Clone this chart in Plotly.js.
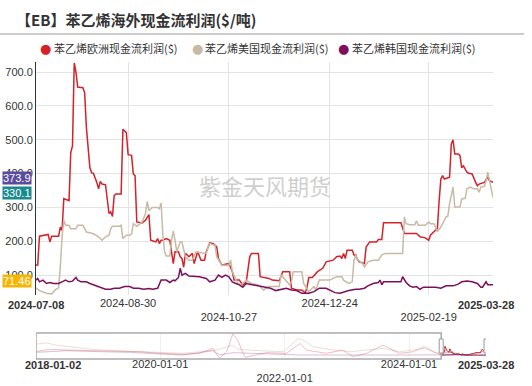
<!DOCTYPE html>
<html><head><meta charset="utf-8">
<script src="https://cdn.plot.ly/plotly-3.0.1.min.js"></script>
<style>html,body{margin:0;padding:0;background:#fff;}#chart{width:532px;height:386px;}</style>
</head><body><div id="chart"></div>
<script>
// ---------- data ----------
const seriesNames = ['苯乙烯欧洲现金流利润($)', '苯乙烯美国现金流利润($)', '苯乙烯韩国现金流利润($)'];

const euDates = [
 '2024-07-08','2024-07-09','2024-07-10','2024-07-14','2024-07-15','2024-07-16','2024-07-17','2024-07-21','2024-07-22','2024-07-23','2024-07-24','2024-07-27','2024-07-28','2024-07-29','2024-07-30','2024-07-31',
 '2024-08-01','2024-08-04','2024-08-05','2024-08-06','2024-08-08','2024-08-09','2024-08-10','2024-08-12','2024-08-13','2024-08-14','2024-08-15','2024-08-17','2024-08-19','2024-08-20','2024-08-21','2024-08-22','2024-08-23','2024-08-26','2024-08-27','2024-08-29','2024-08-30',
 '2024-09-01','2024-09-02','2024-09-03','2024-09-04','2024-09-07','2024-09-09','2024-09-11','2024-09-12','2024-09-15','2024-09-16','2024-09-17','2024-09-18','2024-09-19','2024-09-21','2024-09-23','2024-09-24','2024-09-25','2024-09-26','2024-09-28','2024-09-29','2024-09-30',
 '2024-10-01','2024-10-02','2024-10-04','2024-10-06','2024-10-07','2024-10-09','2024-10-11','2024-10-13','2024-10-14','2024-10-16','2024-10-18','2024-10-20','2024-10-21','2024-10-23','2024-10-25','2024-10-27','2024-10-29','2024-10-30',
 '2024-11-02','2024-11-04','2024-11-06','2024-11-08','2024-11-09','2024-11-13','2024-11-14','2024-11-17','2024-11-19','2024-11-21','2024-11-25','2024-11-27',
 '2024-12-01','2024-12-02','2024-12-05','2024-12-08','2024-12-10','2024-12-11','2024-12-12','2024-12-14','2024-12-16','2024-12-17','2024-12-20','2024-12-22','2024-12-26','2024-12-28','2024-12-30','2024-12-31',
 '2025-01-01','2025-01-02','2025-01-03','2025-01-06','2025-01-07','2025-01-08','2025-01-09','2025-01-10','2025-01-13','2025-01-14','2025-01-16','2025-01-20','2025-01-21','2025-01-23','2025-01-24',
 '2025-02-03','2025-02-05','2025-02-12','2025-02-14','2025-02-17','2025-02-19','2025-02-20','2025-02-22','2025-02-24','2025-02-25','2025-02-26','2025-02-27','2025-02-28',
 '2025-03-03','2025-03-04','2025-03-05','2025-03-06','2025-03-08','2025-03-09','2025-03-10','2025-03-11','2025-03-13','2025-03-14','2025-03-16','2025-03-17','2025-03-18','2025-03-19','2025-03-20','2025-03-23','2025-03-25','2025-03-26','2025-03-28'];
const euValues = [
 130,130,215,218,220,198,215,215,242,232,326,320,462,482,727,700,
 656,654,639,536,418,402,401,374,355,377,369,367,282,287,273,335,340,340,531,521,456,
 454,399,394,257,254,262,279,203,198,208,193,203,203,208,203,169,134,169,169,154,149,
 123,164,154,164,134,169,144,144,169,195,193,183,149,129,132,134,110,85,
 85,71,80,154,164,164,95,93,90,85,83,110,
 110,61,56,56,47,65,93,93,105,110,120,139,144,154,156,149,
 164,149,173,173,159,159,146,139,134,183,198,198,205,205,255,
 255,223,223,213,210,203,218,228,238,320,384,394,384,
 389,487,500,458,458,453,417,423,404,401,399,384,374,364,369,374,389,379,373.9];

const usDates = [
 '2024-07-08','2024-07-10','2024-07-14','2024-07-17','2024-07-19','2024-07-21','2024-07-22','2024-07-23','2024-07-24','2024-07-25','2024-07-27','2024-07-28','2024-07-31',
 '2024-08-01','2024-08-04','2024-08-06','2024-08-08','2024-08-10','2024-08-13','2024-08-15','2024-08-17','2024-08-19','2024-08-20','2024-08-21','2024-08-25','2024-08-26','2024-08-27','2024-08-29','2024-08-31',
 '2024-09-01','2024-09-02','2024-09-04','2024-09-07','2024-09-09','2024-09-10','2024-09-11','2024-09-13','2024-09-16','2024-09-17','2024-09-18','2024-09-19','2024-09-20','2024-09-21','2024-09-23','2024-09-24','2024-09-25','2024-09-26','2024-09-27','2024-09-29','2024-09-30',
 '2024-10-02','2024-10-04','2024-10-06','2024-10-08','2024-10-14','2024-10-15','2024-10-16','2024-10-19','2024-10-20','2024-10-23','2024-10-27','2024-10-28','2024-10-29',
 '2024-11-01','2024-11-03','2024-11-06','2024-11-09','2024-11-13','2024-11-16','2024-11-19','2024-11-25','2024-11-26',
 '2024-12-01','2024-12-02','2024-12-03','2024-12-08','2024-12-09','2024-12-11','2024-12-12','2024-12-15','2024-12-16','2024-12-18','2024-12-24','2024-12-28','2024-12-31',
 '2025-01-01','2025-01-04','2025-01-06','2025-01-07','2025-01-08','2025-01-09','2025-01-12','2025-01-13','2025-01-15','2025-01-18','2025-01-21','2025-01-23','2025-01-25',
 '2025-02-04','2025-02-05','2025-02-06','2025-02-08','2025-02-11','2025-02-12','2025-02-13','2025-02-17','2025-02-19','2025-02-20','2025-02-22','2025-02-24','2025-02-26','2025-02-28',
 '2025-03-01','2025-03-02','2025-03-03','2025-03-05','2025-03-06','2025-03-08','2025-03-09','2025-03-10','2025-03-12','2025-03-13','2025-03-15','2025-03-17','2025-03-19','2025-03-20','2025-03-21','2025-03-23','2025-03-24','2025-03-25','2025-03-26','2025-03-28'];
const usValues = [
 62,54,46,44,56,62,124,213,262,247,247,237,237,
 247,247,227,225,222,213,203,213,218,237,244,244,247,208,218,218,
 222,252,244,257,281,318,291,300,300,296,313,218,169,156,156,203,230,203,169,198,198,
 154,144,144,168,164,183,193,188,154,129,129,144,110,
 76,71,85,75,71,56,66,66,100,
 71,80,110,110,75,61,51,66,56,85,85,95,95,
 85,75,80,144,159,146,134,124,139,144,144,159,164,
 164,272,252,249,249,260,247,247,257,252,252,228,242,262,
 272,274,311,360,301,301,301,325,327,355,360,355,355,345,360,362,379,404,379,330.1];

const krDates = [
 '2024-07-08','2024-07-09','2024-07-10','2024-07-12','2024-07-14','2024-07-16','2024-07-18','2024-07-21','2024-07-23','2024-07-25','2024-07-27','2024-07-29','2024-07-31',
 '2024-08-01','2024-08-03','2024-08-06','2024-08-08','2024-08-11','2024-08-13','2024-08-15','2024-08-17','2024-08-20','2024-08-22','2024-08-25','2024-08-28','2024-08-31',
 '2024-09-02','2024-09-05','2024-09-08','2024-09-11','2024-09-13','2024-09-16','2024-09-18','2024-09-21','2024-09-23','2024-09-25','2024-09-26','2024-09-28','2024-09-29','2024-09-30',
 '2024-10-02','2024-10-04','2024-10-07','2024-10-09','2024-10-10','2024-10-14','2024-10-16','2024-10-19','2024-10-21','2024-10-23','2024-10-25','2024-10-27','2024-10-29','2024-10-31',
 '2024-11-02','2024-11-04','2024-11-06','2024-11-08','2024-11-10','2024-11-13','2024-11-16','2024-11-20','2024-11-23','2024-11-27','2024-11-29',
 '2024-12-02','2024-12-05','2024-12-08','2024-12-12','2024-12-15','2024-12-18','2024-12-22','2024-12-24','2024-12-27','2024-12-30',
 '2025-01-02','2025-01-04','2025-01-08','2025-01-10','2025-01-13','2025-01-15','2025-01-18','2025-01-21','2025-01-22','2025-01-23','2025-01-24',
 '2025-02-03','2025-02-04','2025-02-06','2025-02-08','2025-02-10','2025-02-12','2025-02-14','2025-02-16','2025-02-20','2025-02-23','2025-02-26',
 '2025-03-01','2025-03-05','2025-03-08','2025-03-10','2025-03-13','2025-03-16','2025-03-19','2025-03-21','2025-03-22','2025-03-24','2025-03-25','2025-03-28'];
const krValues = [
 85,90,80,85,75,78,75,75,80,85,80,82,93,
 85,80,80,75,70,66,63,58,58,61,61,66,66,
 61,61,58,60,58,61,85,85,78,85,83,93,120,100,
 105,97,97,95,95,90,80,85,100,93,100,95,80,75,
 71,64,75,73,71,68,64,61,54,58,61,
 56,54,46,46,51,61,61,56,48,46,
 51,54,58,58,61,68,75,78,85,71,80,
 80,95,78,68,64,66,58,64,64,64,61,
 68,68,73,80,82,80,75,64,64,80,71,71.46];

// long history shown in the overview strip (2018-01 .. 2024-07)
const histEuDates = ['2018-01-02','2018-03-20','2018-07-01','2018-12-01','2019-04-20','2019-09-01','2020-01-01','2020-05-15','2020-08-20','2020-11-05','2020-12-15','2021-01-25','2021-03-03','2021-04-01','2021-05-01','2021-05-15','2021-09-16','2022-01-12','2022-04-01','2022-05-08','2022-09-01','2022-12-10','2023-02-06','2023-04-27','2023-08-01','2023-09-08','2023-11-06','2024-01-26','2024-04-01','2024-05-22','2024-07-08'];
const histEuValues = [320,490,441,392,368,320,198,125,198,563,-166,320,1650,1170,198,-94,247,198,927,441,198,441,-45,198,806,563,198,320,684,320,130];
const histUsDates = ['2018-01-02','2018-03-01','2018-05-01','2018-08-07','2018-12-01','2019-04-20','2019-09-01','2020-01-01','2020-05-15','2020-08-20','2020-11-25','2021-03-03','2021-04-01','2021-08-07','2021-12-25','2022-03-20','2022-04-20','2022-06-17','2022-10-12','2023-01-20','2023-04-27','2023-08-01','2023-11-06','2024-04-01','2024-05-22','2024-07-08'];
const histUsValues = [878,976,806,684,490,392,320,270,198,320,441,806,490,392,320,1292,1170,684,441,320,441,563,320,563,320,62];
const histKrDates = ['2018-01-02','2018-07-01','2019-01-15','2019-07-15','2020-01-01','2020-05-15','2020-11-05','2020-12-15','2021-03-03','2021-06-28','2021-10-20','2022-04-01','2022-10-12','2023-04-27','2023-11-06','2024-07-08'];
const histKrValues = [270,392,320,270,150,76,392,76,247,198,150,76,76,52,76,85];

const yTickVals = [100, 200, 300, 400, 500, 600, 700];
const yTickText = ['100.0', '200.0', '300.0', '400.0', '500.0', '600.0', '700.0'];
const xTickVals = ['2024-08-30', '2024-10-27', '2024-12-24', '2025-02-19'];
const xTickText = ['2024-08-30', '<br>2024-10-27', '2024-12-24', '<br>2025-02-19'];
const x2TickVals = ['2020-01-01', '2022-01-01', '2024-01-01'];
const x2TickText = ['2020-01-01', '<br>2022-01-01', '2024-01-01'];
const windowStart = '2024-07-08', windowEnd = '2025-03-28', historyStart = '2018-01-02';
const lastTags = [
  {text: '373.9', value: 373.9, color: '#5a4b9e'},
  {text: '330.1', value: 330.1, color: '#1b8a8e'},
  {text: '71.46', value: 71.46, color: '#f7b500'}
];

// ---------- styles ----------
const colors = ['#d3222a', '#c8baa4', '#7d0f5c'];
const paleColors = ['rgba(226,110,115,0.45)', 'rgba(200,186,164,0.45)', 'rgba(160,70,140,0.35)'];
const L = 36, R = 493, T = 62, B = 359; // plot box in px
const W = R - L, H = B - T;
const px = v => (v - L) / W;
const py = v => (B - v) / H;
const tickFont = {family: 'Liberation Sans, Arial, sans-serif', size: 11, color: '#333'};
const cjk = 'Noto Sans CJK SC, sans-serif';

const traces = [
  {x: euDates, y: euValues, name: seriesNames[0], type: 'scatter', mode: 'lines', line: {color: colors[0], width: 1.5}, xaxis: 'x', yaxis: 'y'},
  {x: usDates, y: usValues, name: seriesNames[1], type: 'scatter', mode: 'lines', line: {color: colors[1], width: 1.5}, xaxis: 'x', yaxis: 'y'},
  {x: krDates, y: krValues, name: seriesNames[2], type: 'scatter', mode: 'lines', line: {color: colors[2], width: 1.5}, xaxis: 'x', yaxis: 'y'},
  {x: histUsDates, y: histUsValues, type: 'scatter', mode: 'lines', line: {color: paleColors[1], width: 1}, xaxis: 'x2', yaxis: 'y2'},
  {x: histEuDates, y: histEuValues, type: 'scatter', mode: 'lines', line: {color: paleColors[0], width: 1}, xaxis: 'x2', yaxis: 'y2'},
  {x: histKrDates, y: histKrValues, type: 'scatter', mode: 'lines', line: {color: paleColors[2], width: 1}, xaxis: 'x2', yaxis: 'y2'},
  {x: usDates, y: usValues, type: 'scatter', mode: 'lines', line: {color: colors[1], width: 1}, xaxis: 'x2', yaxis: 'y2'},
  {x: euDates, y: euValues, type: 'scatter', mode: 'lines', line: {color: colors[0], width: 1}, xaxis: 'x2', yaxis: 'y2'},
  {x: krDates, y: krValues, type: 'scatter', mode: 'lines', line: {color: colors[2], width: 1}, xaxis: 'x2', yaxis: 'y2'}
];

const annotations = [
  {text: '<b>【EB】苯乙烯海外现金流利润($/吨)</b>', xref: 'paper', yref: 'paper', x: px(14), y: py(20), xanchor: 'left', yanchor: 'middle', showarrow: false, font: {family: cjk, size: 15, color: '#333'}},
  {text: '紫金天风期货', xref: 'paper', yref: 'paper', x: px(265), y: py(185), xanchor: 'center', yanchor: 'middle', showarrow: false, font: {family: cjk, size: 22, color: 'rgba(190,190,190,0.75)'}}
];
const legendPos = [[45, 52], [197, 203], [343, 350]];
seriesNames.forEach((n, i) => {
  annotations.push({text: '●', xref: 'paper', yref: 'paper', x: px(legendPos[i][0]), y: py(48), xanchor: 'center', yanchor: 'middle', showarrow: false, font: {family: 'DejaVu Sans', size: 13, color: colors[i]}});
  annotations.push({text: n, xref: 'paper', yref: 'paper', x: px(legendPos[i][1]), y: py(48), xanchor: 'left', yanchor: 'middle', showarrow: false, font: {family: cjk, size: 11, color: '#333'}});
});
lastTags.forEach(t => {
  annotations.push({text: t.text, xref: 'paper', yref: 'y', x: 0, y: t.value, xanchor: 'right', yanchor: 'middle', xshift: -4, yshift: 4, showarrow: false, bgcolor: t.color, borderpad: 0, font: {family: 'Liberation Sans, Arial', size: 11, color: '#fff'}});
});
annotations.push({text: '<b>' + windowStart + '</b>', xref: 'x', yref: 'paper', x: windowStart, y: py(305), xanchor: 'center', yanchor: 'middle', showarrow: false, font: tickFont});
annotations.push({text: '<b>' + windowEnd + '</b>', xref: 'x', yref: 'paper', x: windowEnd, y: py(305), xanchor: 'center', yanchor: 'middle', xshift: -7, showarrow: false, font: tickFont});
annotations.push({text: '<b>' + historyStart + '</b>', xref: 'x2', yref: 'paper', x: historyStart, y: py(365), xanchor: 'center', yanchor: 'middle', xshift: 17, showarrow: false, font: tickFont});
annotations.push({text: '<b>' + windowEnd + '</b>', xref: 'x2', yref: 'paper', x: windowEnd, y: py(365), xanchor: 'center', yanchor: 'middle', showarrow: false, font: tickFont});

const shapes = [
  {type: 'line', xref: 'paper', yref: 'paper', x0: px(0), x1: px(524), y0: py(34), y1: py(34), line: {color: '#bbbbbb', width: 1.5}},
  {type: 'rect', xref: 'x2', yref: 'y2 domain', x0: historyStart, x1: windowStart, y0: 0, y1: 1, line: {color: '#aaaaaa', width: 1.5}},
  {type: 'rect', xref: 'x2', yref: 'paper', xsizemode: 'pixel', xanchor: windowStart, x0: -2, x1: 2, y0: py(353), y1: py(339), fillcolor: '#fff', line: {color: '#999', width: 1}},
  {type: 'rect', xref: 'x2', yref: 'paper', xsizemode: 'pixel', xanchor: windowEnd, x0: -2, x1: 2, y0: py(353), y1: py(339), fillcolor: '#fff', line: {color: '#999', width: 1}}
];

const layout = {
  width: 532, height: 386,
  margin: {l: L, r: 532 - R, t: T, b: 386 - B, pad: 0},
  paper_bgcolor: '#fff', plot_bgcolor: '#fff',
  showlegend: false, hovermode: false,
  xaxis: {type: 'date', domain: [0, 1], range: [windowStart, windowEnd], anchor: 'y',
    tickvals: xTickVals, ticktext: xTickText, showgrid: true, gridcolor: '#e3e3e3', gridwidth: 1,
    showline: false, zeroline: false, ticks: '', tickfont: tickFont},
  yaxis: {domain: [py(295), 1], range: [41, 730], anchor: 'x',
    tickvals: yTickVals, ticktext: yTickText, showgrid: true, gridcolor: '#e3e3e3', gridwidth: 1,
    showline: true, linecolor: '#333', linewidth: 1, zeroline: false, ticks: '', tickfont: tickFont},
  xaxis2: {type: 'date', domain: [0, px(486)], range: [historyStart, windowEnd], anchor: 'y2',
    tickvals: x2TickVals, ticktext: x2TickText, showgrid: true, gridcolor: '#f0f0f0',
    showline: false, zeroline: false, ticks: '', tickfont: tickFont, ticklabelstandoff: -3},
  yaxis2: {domain: [0, py(333)], range: [-220, 1700], anchor: 'x2', visible: false, showgrid: false, zeroline: false},
  annotations: annotations,
  shapes: shapes
};

Plotly.newPlot('chart', traces, layout, {staticPlot: true, displayModeBar: false});
</script></body></html>
